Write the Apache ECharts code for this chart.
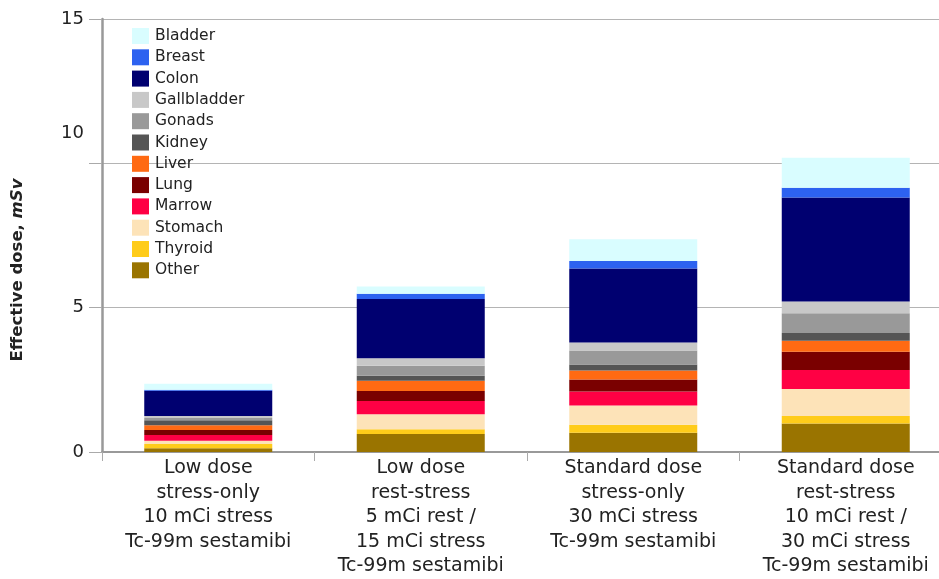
<!DOCTYPE html>
<html>
<head>
<meta charset="utf-8">
<script src="https://cdn.jsdelivr.net/npm/echarts@6/dist/echarts.min.js"></script>
<style>html,body{margin:0;padding:0;background:#fff}#c{width:939px;height:579px}</style>
</head>
<body>
<div id="c"></div>
<script>
var categories = [
  'Low dose\nstress-only\n10 mCi stress\nTc-99m sestamibi',
  'Low dose\nrest-stress\n5 mCi rest /\n15 mCi stress\nTc-99m sestamibi',
  'Standard dose\nstress-only\n30 mCi stress\nTc-99m sestamibi',
  'Standard dose\nrest-stress\n10 mCi rest /\n30 mCi stress\nTc-99m sestamibi'
];
var organs = ['Bladder','Breast','Colon','Gallbladder','Gonads','Kidney','Liver','Lung','Marrow','Stomach','Thyroid','Other'];
var bladder     = [0.20, 0.25, 0.75, 1.04];
var breast      = [0.04, 0.18, 0.26, 0.33];
var colon       = [0.87, 2.05, 2.57, 3.61];
var gallbladder = [0.07, 0.26, 0.27, 0.40];
var gonads      = [0.08, 0.35, 0.49, 0.69];
var kidney      = [0.17, 0.17, 0.21, 0.27];
var liver       = [0.17, 0.36, 0.31, 0.38];
var lung        = [0.17, 0.34, 0.41, 0.63];
var marrow      = [0.20, 0.46, 0.49, 0.66];
var stomach     = [0.11, 0.52, 0.67, 0.93];
var thyroid     = [0.15, 0.17, 0.27, 0.26];
var other       = [0.13, 0.62, 0.67, 0.99];
var yTicks = [0, 5, 10, 15];

var values = {Bladder:bladder, Breast:breast, Colon:colon, Gallbladder:gallbladder, Gonads:gonads,
  Kidney:kidney, Liver:liver, Lung:lung, Marrow:marrow, Stomach:stomach, Thyroid:thyroid, Other:other};
var colors = {Bladder:'#d9fdff', Breast:'#2d62f0', Colon:'#000070', Gallbladder:'#c8c8c8', Gonads:'#999999',
  Kidney:'#555555', Liver:'#ff6a13', Lung:'#7a0000', Marrow:'#ff0044', Stomach:'#fde3b8', Thyroid:'#ffcc1a', Other:'#9a7400'};

var series = organs.slice().reverse().map(function(o){
  return {name:o, type:'bar', stack:'dose', data:values[o], barWidth:128,
    itemStyle:{color:colors[o]}, emphasis:{disabled:true}};
});

var font = '"DejaVu Sans", Verdana, sans-serif';
var chart = echarts.init(document.getElementById('c'), null, {renderer:'canvas'});
chart.setOption({
  animation:false,
  backgroundColor:'#fff',
  grid:{left:102, width:850, top:19, bottom:127, containLabel:false, outerBoundsMode:'none'},
  legend:{
    data:organs, orient:'vertical', left:127, top:23, itemWidth:17, itemHeight:16, itemGap:5.3,
    icon:'rect', selectedMode:false,
    textStyle:{fontFamily:font, fontSize:15.5, color:'#222', lineHeight:16, padding:[0,0,0,1]}
  },
  xAxis:{
    type:'category', data:categories,
    axisLine:{lineStyle:{color:'#999', width:2}},
    axisTick:{show:true, length:9, lineStyle:{color:'#aaa', width:1}},
    axisLabel:{fontFamily:font, fontSize:19, color:'#222', lineHeight:24.5, margin:4, interval:0}
  },
  yAxis:{
    type:'value', min:yTicks[0], max:yTicks[yTicks.length-1], interval:5,
    axisLine:{show:true, lineStyle:{color:'#999', width:2.5}},
    axisTick:{show:true, length:13, lineStyle:{color:'#aaa', width:1}},
    splitLine:{lineStyle:{color:'#b4b4b4', width:1.2}},
    axisLabel:{fontFamily:font, fontSize:18, color:'#222', margin:18,
      formatter:function(v){ return v===10 ? '{up|10}' : String(v); },
      rich:{up:{fontFamily:font, fontSize:18, color:'#222', padding:[0,0,60,0]}}}
  },
  graphic:[{
    type:'text', x:18, y:270, rotation:Math.PI/2,
    style:{
      text:'{b|Effective dose, }{i|mSv}',
      align:'center', verticalAlign:'middle',
      rich:{
        b:{fontFamily:font, fontSize:16.5, fontWeight:'bold', fill:'#222'},
        i:{fontFamily:font, fontSize:16.5, fontWeight:'bold', fontStyle:'italic', fill:'#222'}
      }
    }
  }],
  series:series
});
</script>
</body>
</html>
